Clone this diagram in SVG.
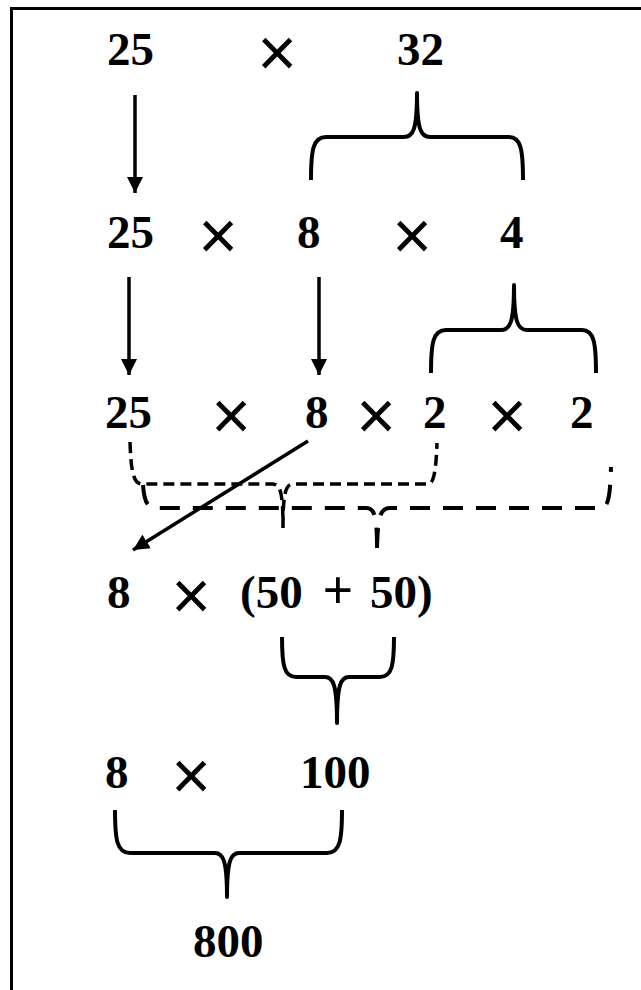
<svg xmlns="http://www.w3.org/2000/svg" width="641" height="990" viewBox="0 0 641 990">
<style>
.n{font-family:"Liberation Serif","Times New Roman",serif;font-weight:bold;font-size:47px;fill:#000}
.x{font-family:"Liberation Sans",Arial,sans-serif;font-size:68px;fill:#000;text-anchor:middle}
.p{font-family:"Liberation Serif","Times New Roman",serif;font-weight:bold;font-size:54px;fill:#000;text-anchor:middle}
.a{stroke:#000;stroke-width:3.5;fill:none}
.b{stroke:#000;stroke-width:4;fill:none;stroke-linejoin:round}
.d1{stroke:#000;stroke-width:3.5;fill:none;stroke-dasharray:11 6}
.d2{stroke:#000;stroke-width:4;fill:none;stroke-dasharray:20 13}
</style>
<defs>
<marker id="ah" viewBox="0 0 10 10" refX="10" refY="5" markerWidth="4.6" markerHeight="4.6" markerUnits="strokeWidth" orient="auto">
<path d="M0,0 L10,5 L0,10 Z" fill="#000"/>
</marker>
</defs>
<rect x="11.5" y="8.5" width="700" height="1000" fill="#fff" stroke="#000" stroke-width="3"/>

<g id="row1">
<text class="n" x="107" y="65">25</text>
<text class="x" x="277" y="76">×</text>
<text class="n" x="397" y="65">32</text>
</g>
<g id="row2">
<text class="n" x="107" y="248">25</text>
<text class="x" x="218" y="259">×</text>
<text class="n" x="297" y="248">8</text>
<text class="x" x="412" y="259">×</text>
<text class="n" x="500" y="248">4</text>
</g>
<g id="row3">
<text class="n" x="105" y="428">25</text>
<text class="x" x="231" y="439">×</text>
<text class="n" x="305" y="428">8</text>
<text class="x" x="376" y="439">×</text>
<text class="n" x="423" y="428">2</text>
<text class="x" x="507" y="439">×</text>
<text class="n" x="570" y="428">2</text>
</g>
<g id="row4">
<text class="n" x="107" y="608">8</text>
<text class="x" x="191" y="619">×</text>
<text class="n" x="240" y="608">(50</text>
<text class="p" x="338" y="608">+</text>
<text class="n" x="370" y="608">50)</text>
</g>
<g id="row5">
<text class="n" x="105" y="788">8</text>
<text class="x" x="191" y="799">×</text>
<text class="n" x="300" y="788">100</text>
</g>
<g id="row6">
<text class="n" x="193" y="957">800</text>
</g>

<g id="connectors">
<line class="a" x1="135" y1="95" x2="135" y2="193" marker-end="url(#ah)"/>
<line class="a" x1="129" y1="277" x2="129" y2="375" marker-end="url(#ah)"/>
<line class="a" x1="319" y1="277" x2="319" y2="375" marker-end="url(#ah)"/>
<line class="a" x1="308" y1="441" x2="133" y2="550" marker-end="url(#ah)"/>
<path class="b" d="M311,180 C311,150 313,137 326,137 L404,137 C413,137 417,130 417,93 C417,130 421,137 430,137 L509,137 C521,137 523,150 523,180"/>
<path class="b" d="M431,373 C431,343 433,330 446,330 L501,330 C510,330 514,323 514,285 C514,323 518,330 527,330 L582,330 C594,330 596,343 596,373"/>
<path class="b" d="M282,637 C282,665 284,677 296,677 L325,677 C333,677 337,684 337,723 C337,684 341,677 349,677 L380,677 C392,677 394,665 394,637"/>
<path class="b" d="M115,810 C115,840 117,853 130,853 L215,853 C223,853 227,860 227,897 C227,860 231,853 239,853 L327,853 C340,853 342,840 342,810"/>
<path class="d1" d="M130,442 C131,470 133,484 142,484 L272,484 C280,484 283,490 283,528 M283,528 C283,490 286,484 294,484 L428,484 C434,484 436,470 437,443"/>
<path class="d2" d="M143,485 C144,500 146,508 158,508 L366,508 C374,508 377,514 377,548 M377,548 C378,514 381,508 390,508 L600,508 C608,508 610,500 611,467"/>
</g>
</svg>
